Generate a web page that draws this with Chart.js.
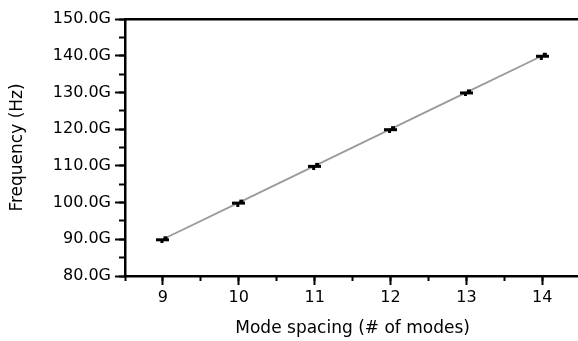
<!DOCTYPE html>
<html><head><meta charset="utf-8">
<script src="https://cdn.jsdelivr.net/npm/chart.js@4/dist/chart.umd.min.js"></script>
<style>html,body{margin:0;padding:0;overflow:hidden;background:#fff}canvas{display:block}</style>
</head><body>
<canvas id="c" width="588" height="341" style="width:588px;height:341px"></canvas>
<script>
const modeSpacing = [9, 10, 11, 12, 13, 14];
const frequencyGHz = [90, 100, 110, 120, 130, 140];
const xTicks = [9, 10, 11, 12, 13, 14];
const yTicks = [80, 90, 100, 110, 120, 130, 140, 150];
const xTitle = 'Mode spacing (# of modes)';
const yTitle = 'Frequency (Hz)';

function marker() {
  const c = document.createElement('canvas');
  c.width = 13; c.height = 8;
  const g = c.getContext('2d');
  g.fillStyle = '#000';
  g.fillRect(0, 3, 13, 3);
  g.fillRect(4, 6, 3, 2);
  g.fillRect(7, 1, 4, 2);
  return c;
}

const tickFont = { family: 'DejaVu Sans', size: 16 };
const titleFont = { family: 'DejaVu Sans', size: 17 };

new Chart(document.getElementById('c'), {
  type: 'line',
  data: {
    datasets: [{
      data: modeSpacing.map((x, i) => ({ x: x, y: frequencyGHz[i] })),
      xAxisID: 'x', yAxisID: 'y',
      borderColor: 'rgb(155,155,155)',
      borderWidth: 1.8,
      pointStyle: marker(),
      pointRadius: 6,
      showLine: true,
      fill: false,
      tension: 0
    }]
  },
  options: {
    responsive: false,
    devicePixelRatio: 1,
    animation: false,
    layout: { padding: { top: 19, left: 0, right: 0, bottom: 0 } },
    plugins: { legend: { display: false }, tooltip: { enabled: false } },
    scales: {
      x: {
        type: 'linear', position: 'bottom', min: 8.5, max: 14.5,
        afterBuildTicks: s => { s.ticks = xTicks.map(v => ({ value: v })); },
        ticks: { font: tickFont, color: '#000', padding: 3, maxRotation: 0, callback: v => String(v) },
        grid: { drawOnChartArea: false, drawTicks: true, tickLength: 9, tickWidth: 2, tickColor: '#000' },
        border: { color: '#000', width: 2.5 },
        title: { display: true, text: xTitle, font: titleFont, color: '#000', padding: { top: 4, bottom: 2 } },
        afterFit: s => { s.height = 65; }
      },
      xMinor: {
        type: 'linear', position: 'bottom', weight: -1, min: 8.5, max: 14.5,
        ticks: { display: false, stepSize: 0.5 },
        grid: { drawOnChartArea: false, drawTicks: true, tickLength: 5, tickWidth: 2, tickColor: '#000' },
        border: { display: false },
        afterFit: s => { s.height = 0; }
      },
      xTop: {
        type: 'linear', position: 'top', min: 8.5, max: 14.5,
        ticks: { display: false },
        grid: { display: false },
        border: { color: '#000', width: 2.5 },
        afterFit: s => { s.height = 0; }
      },
      y: {
        type: 'linear', position: 'left', min: 80, max: 150,
        afterBuildTicks: s => { s.ticks = yTicks.map(v => ({ value: v })); },
        ticks: { font: tickFont, color: '#000', padding: 4, callback: v => Number(v).toFixed(1) + 'G' },
        grid: { drawOnChartArea: false, drawTicks: true, tickLength: 10, tickWidth: 2, tickColor: '#000' },
        border: { color: '#000', width: 2.5 },
        title: { display: true, text: yTitle, font: titleFont, color: '#000', padding: { top: 7, bottom: 0 } },
        afterFit: s => { s.width = 125; }
      },
      yMinor: {
        type: 'linear', position: 'left', weight: -1, min: 80, max: 150,
        ticks: { display: false, stepSize: 5 },
        grid: { drawOnChartArea: false, drawTicks: true, tickLength: 6, tickWidth: 2, tickColor: '#000' },
        border: { display: false },
        afterFit: s => { s.width = 0; }
      }
    }
  }
});
</script>
</body></html>
